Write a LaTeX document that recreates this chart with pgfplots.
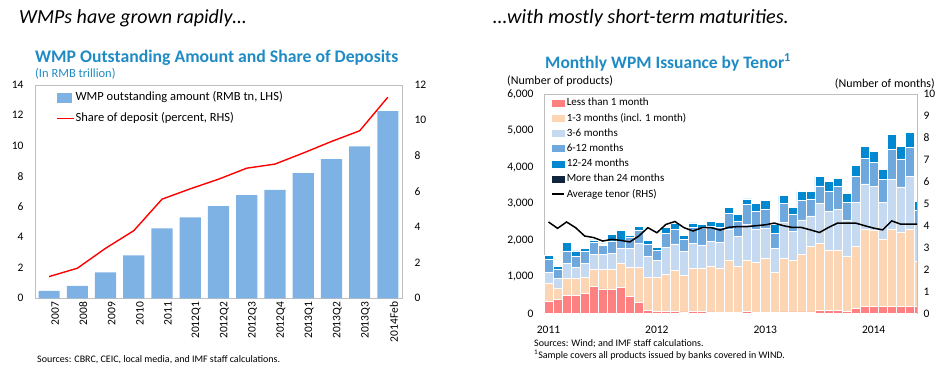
\documentclass[border=0pt]{standalone}
\usepackage{fontspec}
\setmainfont{Carlito}
\usepackage{pgfplots}
\usepackage{pgfplotstable}
\pgfplotsset{compat=1.18}
\definecolor{titleblue}{RGB}{31,139,196}
\definecolor{barblue}{RGB}{126,178,228}
\definecolor{cRed}{RGB}{255,128,128}
\definecolor{cPeach}{RGB}{252,213,181}
\definecolor{cLight}{RGB}{197,217,241}
\definecolor{cMed}{RGB}{111,168,220}
\definecolor{cDark}{RGB}{0,136,208}
\definecolor{cNavy}{RGB}{16,36,62}
\definecolor{framegray}{RGB}{191,191,191}

\pgfplotstableread{
x v s
0 0.48 1.22
1 0.81 1.69
2 1.70 2.81
3 2.82 3.80
4 4.59 5.57
5 5.31 6.15
6 6.04 6.69
7 6.76 7.31
8 7.10 7.54
9 8.20 8.16
10 9.12 8.81
11 9.95 9.41
12 12.27 11.30
}\wmp

\pgfplotstableread{
x r p l m d n t
1 340 490 300 340 120 0 4.17
2 375 325 250 250 90 0 3.88
3 500 450 410 350 240 0 4.17
4 500 450 300 320 140 0 3.91
5 540 455 365 330 90 0 3.53
6 750 465 410 320 65 0 3.46
7 675 540 410 235 45 0 3.30
8 650 565 435 320 185 0 3.38
9 705 655 430 210 270 0 3.33
10 475 775 540 285 65 0 3.26
11 310 940 660 360 120 0 3.53
12 80 915 565 330 110 0 3.91
13 55 940 455 270 90 0 3.68
14 55 1025 720 400 160 0 4.06
15 55 1115 730 410 150 0 4.19
16 45 1005 650 330 110 0 3.91
17 55 1180 690 435 115 0 3.76
18 55 1185 635 445 120 0 3.91
19 45 1255 680 405 135 0 3.91
20 40 1205 705 400 140 0 3.80
21 20 1445 825 455 165 0 3.93
22 20 1260 825 410 185 0 3.96
23 50 1415 980 530 160 0 3.96
24 20 1370 900 500 210 0 4.00
25 20 1490 825 500 255 0 4.04
26 20 1100 665 410 230 0 4.12
27 45 1465 980 510 230 0 4.00
28 45 1420 775 460 190 0 3.92
29 45 1585 930 530 250 0 3.92
30 45 1785 840 460 210 0 3.81
31 95 1825 1100 470 260 0 3.69
32 95 1645 1050 550 270 0 3.92
33 75 1665 1095 640 210 0 4.12
34 60 1495 990 490 240 0 4.12
35 140 1690 1210 710 290 0 4.12
36 205 2085 1250 695 335 0 4.00
37 205 2065 1205 655 305 0 3.89
38 185 1845 1015 630 255 0 3.81
39 205 2100 1355 820 410 0 4.22
40 205 2020 1235 765 345 0 4.07
41 205 2085 1460 795 410 0 4.07
42 205 1215 1005 395 245 0 4.07
}\tenor

\pgfplotsset{
  common/.style={
    scale only axis,
    axis line style={framegray},
    tick style={draw=none},
    tick label style={font=\fontsize{11.5}{13}\selectfont},
    /pgf/number format/assume math mode=true,
  },
}

\begin{document}
\begin{tikzpicture}[x=1pt,y=1pt]
\path[use as bounding box] (0pt,0pt) rectangle (949pt,373pt);

% headings
\node[anchor=base west, inner sep=0, font=\fontsize{20}{24}\selectfont\itshape] at (19pt,349pt) {WMPs have grown rapidly…};
\node[anchor=base west, inner sep=0, font=\fontsize{20.3}{24}\selectfont\itshape] at (493pt,349pt) {…with mostly short-term maturities.};

% left titles
\node[anchor=base west, inner sep=0, text=titleblue, font=\fontsize{17.7}{20}\selectfont\bfseries] at (35pt,310pt) {WMP Outstanding Amount and Share of Deposits};
\node[anchor=base west, inner sep=0, text=titleblue, font=\fontsize{12.5}{14}\selectfont] at (35pt,296pt) {(In RMB trillion)};
\node[anchor=base west, inner sep=0, font=\fontsize{10}{12}\selectfont] at (37pt,11pt) {Sources: CBRC, CEIC, local media, and IMF staff calculations.};

% right titles
\node[anchor=base west, inner sep=0, text=titleblue, font=\fontsize{17.5}{20}\selectfont\bfseries] at (545pt,305pt) {Monthly WPM Issuance by Tenor\textsuperscript{1}};
\node[anchor=base west, inner sep=0, font=\fontsize{12}{14}\selectfont] at (507pt,288pt) {(Number of products)};
\node[anchor=base east, inner sep=0, font=\fontsize{12}{14}\selectfont] at (935pt,286pt) {(Number of months)};
\node[anchor=base west, inner sep=0, font=\fontsize{10}{12}\selectfont] at (534pt,27pt) {Sources: Wind; and IMF staff calculations.};
\node[anchor=base west, inner sep=0, font=\fontsize{10}{12}\selectfont] at (534pt,15pt) {\textsuperscript{1}Sample covers all products issued by banks covered in WIND.};

% ---------------- left chart ----------------
\begin{axis}[common,
  at={(35pt,74.7pt)}, anchor=south west, width=367pt, height=213.6pt,
  xmin=-0.5, xmax=12.5, ymin=0, ymax=14, ytick={0,2,...,14},
  xtick={0,...,12},
  xticklabels={2007,2008,2009,2010,2011,2012Q1,2012Q2,2012Q3,2012Q4,2013Q1,2013Q2,2013Q3,2014Feb},
  x tick label style={rotate=90, anchor=east, yshift=-6pt},
  y tick label style={xshift=-8pt},
]
\addplot[ybar, bar width=0.75, fill=barblue, draw=none] table[x=x,y=v]{\wmp};
\end{axis}
\begin{axis}[common,
  at={(35pt,74.7pt)}, anchor=south west, width=367pt, height=213.6pt,
  xmin=-0.5, xmax=12.5, ymin=0, ymax=12, ytick={0,2,...,12},
  axis x line=none, axis y line*=right,
  y tick label style={xshift=9pt},
  legend cell align=left,
  legend style={at={(0.057,0.988)}, anchor=north west, draw=none, fill=none,
    font=\fontsize{12.5}{14}\selectfont, inner sep=0pt, row sep=0pt,
    nodes={inner xsep=1pt, inner ysep=4pt, text height=9.5pt, text depth=3pt}},
]
\addlegendimage{legend image code/.code={\fill[barblue] (0pt,-4.5pt) rectangle (14pt,4.5pt);}}
\addlegendentry{WMP outstanding amount (RMB tn, LHS)}
\addplot[red, line width=1.4pt] table[x=x,y=s]{\wmp};
\addlegendentry{Share of deposit (percent, RHS)}
\end{axis}

% ---------------- right chart ----------------
\begin{axis}[common,
  at={(544pt,59.5pt)}, anchor=south west, width=373pt, height=219.5pt,
  xmin=0.5, xmax=41.8, ymin=0, ymax=6000, ytick={0,1000,...,6000},
  /pgf/number format/1000 sep={,},
  scaled y ticks=false,
  xtick={1,13,25,37}, xticklabels={2011,2012,2013,2014},
  x tick label style={yshift=-9pt},
  y tick label style={xshift=-7pt},
  ybar stacked, bar width=1,
]
\addplot[fill=cRed, draw=white, line width=0.6pt] table[x=x,y=r]{\tenor};
\addplot[fill=cPeach, draw=white, line width=0.6pt] table[x=x,y=p]{\tenor};
\addplot[fill=cLight, draw=white, line width=0.6pt] table[x=x,y=l]{\tenor};
\addplot[fill=cMed, draw=white, line width=0.6pt] table[x=x,y=m]{\tenor};
\addplot[fill=cDark, draw=white, line width=0.6pt] table[x=x,y=d]{\tenor};
\addplot[fill=cNavy, draw=none] table[x=x,y=n]{\tenor};
\end{axis}
\begin{axis}[common,
  at={(544pt,59.5pt)}, anchor=south west, width=373pt, height=219.5pt,
  xmin=0.5, xmax=41.8, ymin=0, ymax=10, ytick={0,1,...,10},
  axis x line=none, axis y line*=right,
  y tick label style={xshift=3pt},
  legend cell align=left,
  legend style={at={(0.019,0.995)}, anchor=north west, draw=none, fill=none,
    font=\fontsize{11}{12}\selectfont, inner sep=0pt, row sep=0pt,
    nodes={inner sep=2pt, text height=8.5pt, text depth=2.7pt}},
]
\addplot[black, line width=1.5pt, forget plot] table[x=x,y=t]{\tenor};
\addlegendimage{legend image code/.code={\fill[cRed] (0pt,-3pt) rectangle (12pt,3pt);}}
\addlegendentry{Less than 1 month}
\addlegendimage{legend image code/.code={\fill[cPeach] (0pt,-3pt) rectangle (12pt,3pt);}}
\addlegendentry{1-3 months (incl. 1 month)}
\addlegendimage{legend image code/.code={\fill[cLight] (0pt,-3pt) rectangle (12pt,3pt);}}
\addlegendentry{3-6 months}
\addlegendimage{legend image code/.code={\fill[cMed] (0pt,-3pt) rectangle (12pt,3pt);}}
\addlegendentry{6-12 months}
\addlegendimage{legend image code/.code={\fill[cDark] (0pt,-3pt) rectangle (12pt,3pt);}}
\addlegendentry{12-24 months}
\addlegendimage{legend image code/.code={\fill[cNavy] (0pt,-3pt) rectangle (12pt,3pt);}}
\addlegendentry{More than 24 months}
\addlegendimage{legend image code/.code={\draw[black, line width=1.5pt] (0pt,0pt) -- (12pt,0pt);}}
\addlegendentry{Average tenor (RHS)}
\end{axis}
\end{tikzpicture}
\end{document}
